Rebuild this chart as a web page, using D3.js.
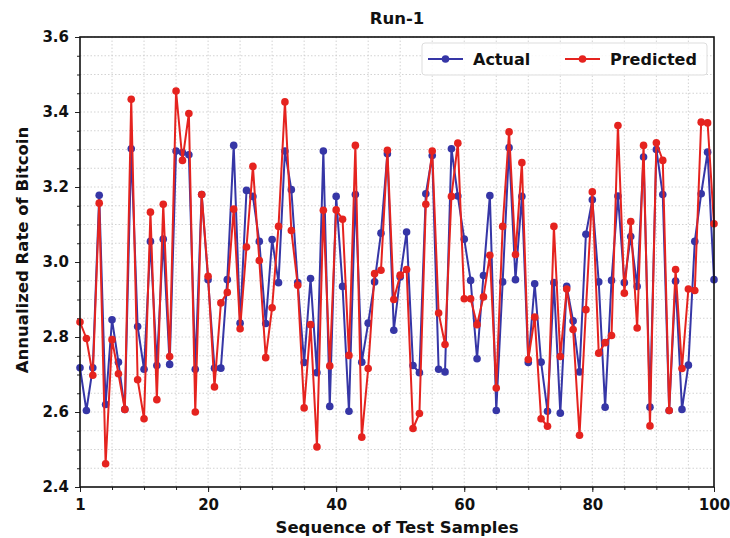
<!DOCTYPE html>
<html lang="en">
<head>
<meta charset="UTF-8">
<title>Run-1</title>
<script src="https://d3js.org/d3.v7.min.js"></script>
<style>
    body { margin: 0; background: #fff; }
    svg text { font-family: "DejaVu Sans", sans-serif; font-weight: bold; fill: #111; }
    .grid line { stroke: #c8c8c8; stroke-width: 0.8; stroke-dasharray: 1.5, 2; }
</style>
</head>
<body>
<svg></svg>
<script>
    // Data
    const actual = [2.718, 2.604, 2.718, 3.178, 2.62, 2.846, 2.733, 2.607, 3.302, 2.828,
        2.714, 3.055, 2.724, 3.061, 2.727, 3.296, 3.292, 3.286, 2.714, 3.18,
        2.953, 2.717, 2.717, 2.953, 3.311, 2.837, 3.191, 3.175, 3.055, 2.836,
        3.06, 2.945, 3.296, 3.193, 2.945, 2.732, 2.956, 2.705, 3.296, 2.615,
        3.175, 2.935, 2.602, 3.18, 2.733, 2.837, 2.947, 3.077, 3.289, 2.818,
        2.96, 3.08, 2.724, 2.705, 3.182, 3.284, 2.714, 2.707, 3.302, 3.176,
        3.061, 2.951, 2.742, 2.964, 3.177, 2.604, 2.947, 3.305, 2.953, 3.175,
        2.732, 2.942, 2.733, 2.602, 2.945, 2.597, 2.935, 2.843, 2.707, 3.074,
        3.166, 2.947, 2.613, 2.951, 3.176, 2.945, 3.068, 2.935, 3.28, 2.613,
        3.3, 3.18, 2.604, 2.949, 2.607, 2.725, 3.055, 3.182, 3.293, 2.953];

    const predicted = [2.84, 2.796, 2.698, 3.157, 2.462, 2.793, 2.702, 2.607, 3.434, 2.686,
        2.582, 3.133, 2.633, 3.154, 2.748, 3.456, 3.271, 3.396, 2.6, 3.18,
        2.962, 2.667, 2.891, 2.919, 3.141, 2.822, 3.04, 3.255, 3.004, 2.745,
        2.878, 3.095, 3.427, 3.084, 2.938, 2.611, 2.833, 2.507, 3.138, 2.723,
        3.139, 3.114, 2.751, 3.311, 2.533, 2.716, 2.969, 2.978, 3.298, 2.9,
        2.965, 2.98, 2.556, 2.596, 3.154, 3.296, 2.864, 2.78, 3.175, 3.317,
        2.902, 2.902, 2.833, 2.907, 3.018, 2.664, 3.095, 3.347, 3.02, 3.265,
        2.74, 2.853, 2.582, 2.562, 3.095, 2.748, 2.928, 2.82, 2.538, 2.873,
        3.187, 2.757, 2.785, 2.804, 3.364, 2.917, 3.108, 2.824, 3.311, 2.563,
        3.318, 3.271, 2.604, 2.98, 2.716, 2.928, 2.924, 3.373, 3.371, 3.102];

    const xTickPos = [0, 20, 40, 60, 80, 99];
    const xTickLabels = ["1", "20", "40", "60", "80", "100"];
    const yTicks = [2.4, 2.6, 2.8, 3.0, 3.2, 3.4, 3.6];

    const series = [
        { name: "Actual", values: actual, color: "#3636a6" },
        { name: "Predicted", values: predicted, color: "#e5231f" }
    ];

    const W = 730, H = 538;
    const margin = { top: 37, right: 16, bottom: 51, left: 80 },
        width = W - margin.left - margin.right,
        height = H - margin.top - margin.bottom;

    const root = d3.select("svg").attr("width", W).attr("height", H);
    const svg = root.append("g").attr("transform", `translate(${margin.left},${margin.top})`);

    const x = d3.scaleLinear().domain([0, 99]).range([0, width]);
    const y = d3.scaleLinear().domain([2.4, 3.6]).range([height, 0]);

    // minor positions for grid
    const xMinor = d3.range(0, 99, 5);
    const yMinor = d3.range(0, 25).map(i => 2.4 + i * 0.05);

    // grid
    svg.append("g").attr("class", "grid")
        .selectAll("line").data(xMinor.slice(1)).enter().append("line")
        .attr("x1", d => x(d)).attr("x2", d => x(d))
        .attr("y1", 0).attr("y2", height);
    svg.append("g").attr("class", "grid")
        .selectAll("line").data(yMinor.slice(1)).enter().append("line")
        .attr("x1", 0).attr("x2", width)
        .attr("y1", d => y(d)).attr("y2", d => y(d));

    // axes
    const xAxis = svg.append("g").attr("transform", `translate(0,${height})`)
        .call(d3.axisBottom(x).tickValues(xTickPos)
            .tickFormat((d, i) => xTickLabels[i]).tickSize(5).tickPadding(7));
    svg.append("g").attr("transform", `translate(0,${height})`)
        .call(d3.axisBottom(x).tickValues(xMinor).tickFormat("").tickSize(3))
        .select(".domain").remove();

    const yAxis = svg.append("g")
        .call(d3.axisLeft(y).tickValues(yTicks).tickFormat(d3.format(".1f"))
            .tickSize(5).tickPadding(6));
    svg.append("g")
        .call(d3.axisLeft(y).tickValues(yMinor).tickFormat("").tickSize(3))
        .select(".domain").remove();

    [xAxis, yAxis].forEach(a => {
        a.selectAll("text").style("font-size", "15px").style("fill", "#111");
        a.select(".domain").remove();
    });
    svg.selectAll(".tick line").attr("stroke", "#222");

    // lines and markers
    const line = d3.line().x((d, i) => x(i)).y(d => y(d));
    series.forEach(s => {
        svg.append("path").datum(s.values)
            .attr("fill", "none").attr("stroke", s.color)
            .attr("stroke-width", 2).attr("d", line);
        svg.append("g").selectAll("circle").data(s.values).enter().append("circle")
            .attr("cx", (d, i) => x(i)).attr("cy", d => y(d))
            .attr("r", 3.8).attr("fill", s.color);
    });

    // frame
    svg.append("rect").attr("width", width).attr("height", height)
        .attr("fill", "none").attr("stroke", "#111").attr("stroke-width", 1.6);

    // legend
    const lg = svg.append("g").attr("transform", `translate(${422 - margin.left},${43 - margin.top})`);
    lg.append("rect").attr("width", 285).attr("height", 32).attr("rx", 3)
        .attr("fill", "#fff").attr("fill-opacity", 0.85)
        .attr("stroke", "#ddd");
    series.forEach((s, i) => {
        const g = lg.append("g").attr("transform", `translate(${6 + i * 137},16)`);
        g.append("line").attr("x1", 0).attr("x2", 35).attr("stroke", s.color).attr("stroke-width", 2);
        g.append("circle").attr("cx", 17.5).attr("r", 3.8).attr("fill", s.color);
        g.append("text").attr("x", 45).attr("dy", "0.35em")
            .style("font-size", "16px").text(s.name);
    });

    // titles
    root.append("text").attr("x", margin.left + width / 2).attr("y", 24)
        .attr("text-anchor", "middle").style("font-size", "16.5px").text("Run-1");
    root.append("text").attr("x", margin.left + width / 2).attr("y", 533)
        .attr("text-anchor", "middle").style("font-size", "16.5px").text("Sequence of Test Samples");
    root.append("text")
        .attr("transform", `translate(28,250) rotate(-90)`)
        .attr("text-anchor", "middle").style("font-size", "16.5px").text("Annualized Rate of Bitcoin");
</script>
</body>
</html>
